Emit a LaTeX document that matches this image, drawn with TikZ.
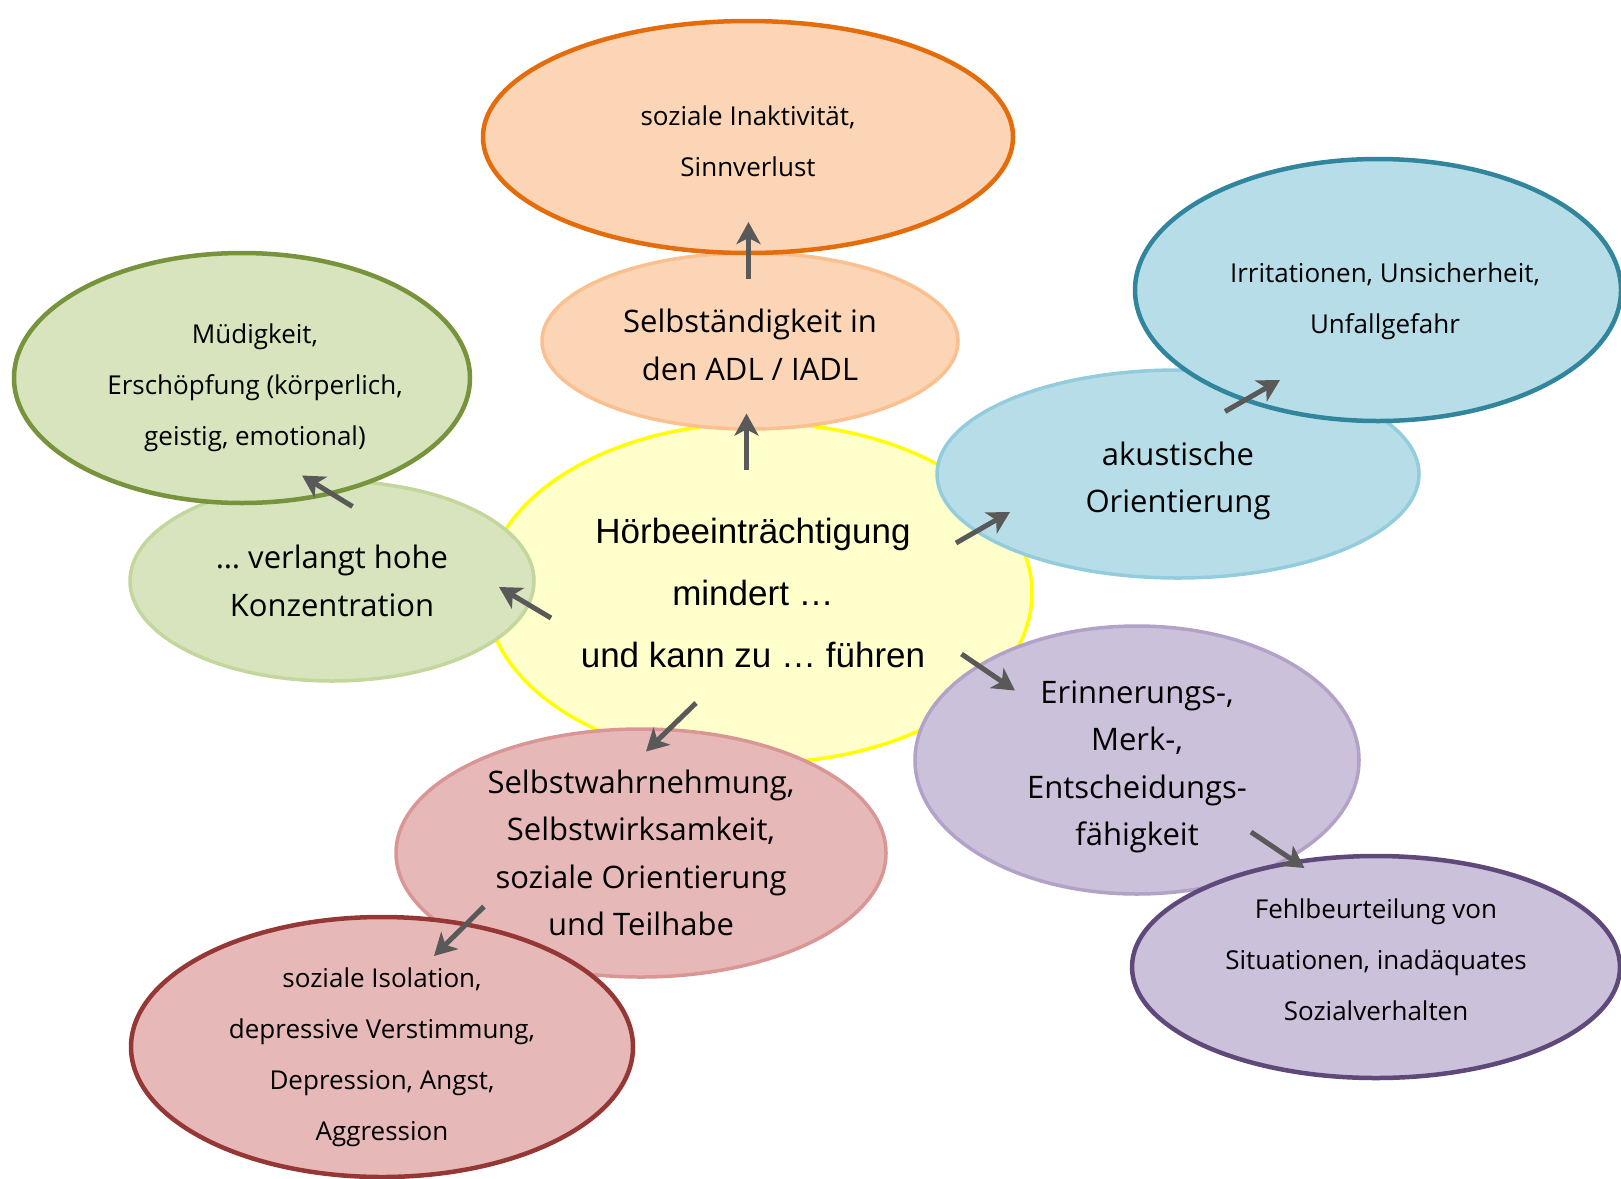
\documentclass[tikz,border=0pt]{standalone}
\usepackage{fontspec}
\setmainfont{Open Sans}
\newfontfamily\arialfont{Liberation Sans}
\usetikzlibrary{arrows.meta,shapes.geometric}
\definecolor{yellowf}{HTML}{FFFFCC}
\definecolor{yellowd}{HTML}{FFFF00}
\definecolor{orangef}{HTML}{FBD5B5}
\definecolor{oranged}{HTML}{E46C0A}
\definecolor{orangel}{HTML}{FAC090}
\definecolor{greenf}{HTML}{D7E4BD}
\definecolor{greend}{HTML}{77933C}
\definecolor{greenl}{HTML}{C3D69B}
\definecolor{bluef}{HTML}{B7DEE8}
\definecolor{blued}{HTML}{31859C}
\definecolor{bluel}{HTML}{93CDDD}
\definecolor{purplef}{HTML}{CCC1DA}
\definecolor{purpled}{HTML}{5F497A}
\definecolor{purplel}{HTML}{B3A2C7}
\definecolor{redf}{HTML}{E6B9B8}
\definecolor{redd}{HTML}{953735}
\definecolor{redl}{HTML}{D99694}
\definecolor{arrgray}{HTML}{595959}
\tikzset{blob/.style={ellipse,inner sep=0pt},inner/.style={blob,line width=3.5pt},outer/.style={blob,line width=4.5pt},itext/.style={align=center,inner sep=0pt,text=black,font=\fontsize{31}{47.5}\selectfont},otext/.style={align=center,inner sep=0pt,text=black,font=\fontsize{26}{51}\selectfont},arr/.style={-{Stealth[length=22pt,width=24pt,inset=6pt]},line width=5pt,draw=arrgray}}

\begin{document}
\begin{tikzpicture}[x=1pt,y=-1pt]
\useasboundingbox (0,0) rectangle (1621,1178);
\node[blob,fill=yellowf,draw=yellowd,line width=3.5pt,minimum width=546pt,minimum height=340pt] (hoer) at (759,593) {};
\node[align=center,inner sep=0pt,font=\arialfont\fontsize{35}{62}\selectfont] (hoerT) at ([xshift=-6]hoer.center) {Hörbeeinträchtigung\\mindert \dots\\und kann zu \dots\ führen};
\node[inner,fill=orangef,draw=orangel,minimum width=416pt,minimum height=176pt] (selbst) at (750,341) {};
\node[itext] (selbstT) at ([yshift=-4]selbst.center) {Selbständigkeit in\\den ADL / IADL};
\node[inner,fill=greenf,draw=greenl,minimum width=404pt,minimum height=200pt] (konz) at (332,581) {};
\node[itext] (konzT) at (konz.center) {\dots\ verlangt hohe\\Konzentration};
\node[inner,fill=bluef,draw=bluel,minimum width=482pt,minimum height=208pt] (akust) at (1178,474) {};
\node[itext] (akustT) at ([yshift=-7]akust.center) {akustische\\Orientierung};
\node[inner,fill=purplef,draw=purplel,minimum width=444pt,minimum height=268pt] (erinn) at (1137,760) {};
\node[itext] (erinnT) at ([yshift=-7]erinn.center) {Erinnerungs-,\\Merk-,\\Entscheidungs-\\fähigkeit};
\node[inner,fill=redf,draw=redl,minimum width=490pt,minimum height=248pt] (wahrn) at (641,853) {};
\node[itext] (wahrnT) at (wahrn.center) {Selbstwahrnehmung,\\Selbstwirksamkeit,\\soziale Orientierung\\und Teilhabe};
% outer ring
\node[outer,fill=orangef,draw=oranged,minimum width=530pt,minimum height=232pt] (inakt) at (748,137) {};
\node[otext] (inaktT) at ([yshift=-4]inakt.center) {soziale Inaktivität,\\Sinnverlust};
\node[outer,fill=greenf,draw=greend,minimum width=456pt,minimum height=250pt] (muede) at (242,378) {};
\node[otext] (muedeT) at ([xshift=13,yshift=-10]muede.center) {Müdigkeit,\\Erschöpfung (körperlich,\\geistig, emotional)};
\node[outer,fill=bluef,draw=blued,minimum width=486pt,minimum height=262pt] (irrit) at (1378,290) {};
\node[otext] (irritT) at ([xshift=7,yshift=-11]irrit.center) {Irritationen, Unsicherheit,\\Unfallgefahr};
\node[outer,fill=purplef,draw=purpled,minimum width=488pt,minimum height=222pt] (fehl) at (1376,967) {};
\node[otext] (fehlT) at ([yshift=7]fehl.center) {Fehlbeurteilung von\\Situationen, inadäquates\\Sozialverhalten};
\node[outer,fill=redf,draw=redd,minimum width=502pt,minimum height=260pt] (isol) at (382,1047) {};
\node[otext] (isolT) at ([yshift=-10]isol.center) {soziale Isolation,\\depressive Verstimmung,\\Depression, Angst,\\Aggression};
% arrows
\draw[arr] ([shift={(-12.5,-123)}]hoer.center) -- ([shift={(-3.5,72.5)}]selbst.center);
\draw[arr] ([shift={(-1.5,-62)}]selbst.center) -- ([shift={(0.5,85)}]inakt.center);
\draw[arr] ([shift={(-208,25)}]hoer.center) -- ([shift={(167,6)}]konz.center);
\draw[arr] ([shift={(20.5,-74.5)}]konz.center) -- ([shift={(60,97.5)}]muede.center);
\draw[arr] ([shift={(197,-50)}]hoer.center) -- ([shift={(-168,38)}]akust.center);
\draw[arr] ([shift={(47,-62.5)}]akust.center) -- ([shift={(-98,90)}]irrit.center);
\draw[arr] ([shift={(202.5,61)}]hoer.center) -- ([shift={(-122,-69.5)}]erinn.center);
\draw[arr] ([shift={(114,72)}]erinn.center) -- ([shift={(-71.5,-99)}]fehl.center);
\draw[arr] ([shift={(-63,110)}]hoer.center) -- ([shift={(5,-101.5)}]wahrn.center);
\draw[arr] ([shift={(-157,53.5)}]wahrn.center) -- ([shift={(52,-91)}]isol.center);
\end{tikzpicture}
\end{document}
